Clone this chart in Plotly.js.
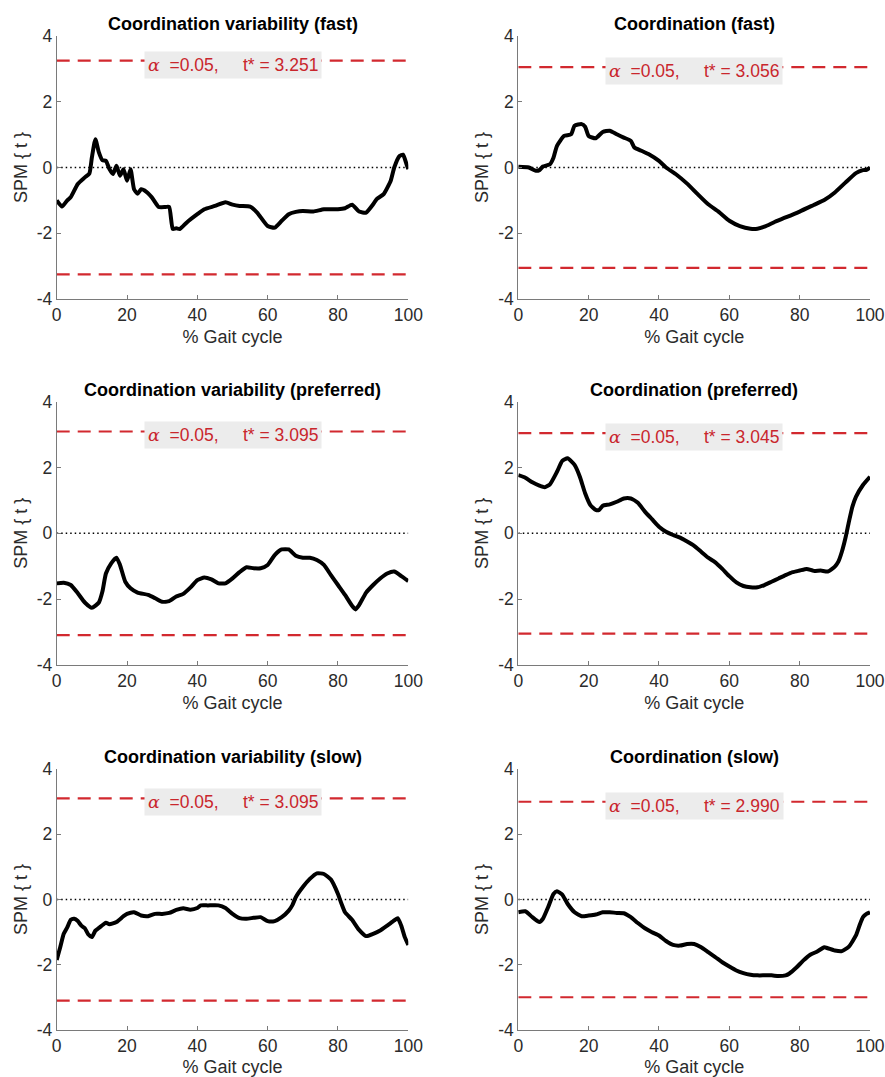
<!DOCTYPE html>
<html>
<head>
<meta charset="utf-8">
<script src="https://cdn.plot.ly/plotly-3.0.1.min.js"></script>
<style>html,body{margin:0;padding:0;background:#fff;} #chart{width:885px;height:1077px;}</style>
</head>
<body>
<div id="chart"></div>
<script>
// ---- Data ----
const panelTitles = [
  "Coordination variability (fast)", "Coordination (fast)",
  "Coordination variability (preferred)", "Coordination (preferred)",
  "Coordination variability (slow)", "Coordination (slow)"
];
const tStar = [3.251, 3.056, 3.095, 3.045, 3.095, 2.990];
const alphaLevel = 0.05;
const xTickVals = [0, 20, 40, 60, 80, 100];
const yTickVals = [-4, -2, 0, 2, 4];
const xLabel = "% Gait cycle";
const yLabel = "SPM { t }";

const cvFastX = [0,1.5,3,4,6,8,9.3,10,11,12,13,14,15,16,17,18,19,20,21,22,23,24,25,27,29,31,32,33,34,35,37,40,42,45,48,50,52,55,57,60,62,64,66,68,70,73,76,80,82,84,86,88,90,91,93,95,96,97.5,98.5,99.5,100];
const cvFastY = [-1.0,-1.19,-1.0,-0.9,-0.5,-0.3,-0.18,0.3,0.86,0.46,0.22,0.2,-0.05,-0.2,0.05,-0.25,-0.05,-0.4,-0.05,-0.66,-0.8,-0.66,-0.7,-0.9,-1.2,-1.2,-1.2,-1.87,-1.85,-1.87,-1.67,-1.42,-1.27,-1.17,-1.06,-1.13,-1.17,-1.19,-1.37,-1.78,-1.83,-1.62,-1.42,-1.35,-1.32,-1.34,-1.27,-1.27,-1.24,-1.13,-1.34,-1.37,-1.12,-0.96,-0.81,-0.4,0.0,0.35,0.39,0.1,-0.05];

const cFastX = [0,3,5,6,7,9,10,11,13,15,16,18,19,20,22,24,26,28,30,32,33,35,37,40,42,45,48,51,54,57,60,63,66,68,70,73,76,80,84,87,90,93,96,98,99,100];
const cFastY = [0.02,0,-0.1,-0.08,0.03,0.1,0.3,0.66,0.96,1.01,1.27,1.32,1.24,0.96,0.89,1.08,1.12,1.01,0.91,0.81,0.61,0.51,0.41,0.2,0,-0.22,-0.49,-0.81,-1.12,-1.35,-1.62,-1.78,-1.86,-1.86,-1.8,-1.65,-1.52,-1.34,-1.14,-0.99,-0.76,-0.46,-0.17,-0.08,-0.07,0];

const cvPrefX = [0,2,4,6,8,10,12,13,14,15.5,17,18,19.5,21,23,26,28,30,32,34,36,38,40,42,44,46,48,50,52,54,56,58,60,62,64,66,68,70,72,74,76,78,80,82,84,85,86,88,90,92,94,96,98,100];
const cvPrefY = [-1.52,-1.5,-1.57,-1.82,-2.1,-2.26,-2.1,-1.77,-1.22,-0.91,-0.74,-0.96,-1.47,-1.67,-1.8,-1.87,-1.97,-2.08,-2.06,-1.92,-1.84,-1.65,-1.42,-1.34,-1.4,-1.52,-1.52,-1.37,-1.18,-1.03,-1.06,-1.06,-0.96,-0.66,-0.49,-0.49,-0.68,-0.74,-0.74,-0.81,-0.96,-1.27,-1.57,-1.87,-2.2,-2.31,-2.18,-1.8,-1.57,-1.37,-1.22,-1.16,-1.3,-1.45];

const cPrefX = [0,2,4,6,7.5,9,11,12.5,14,16,17.5,19,20.5,22,23,24,26,28,30,32,34,36,38,40,42,44,46,48,50,52,54,56,58,60,62,64,66,68,70,72,74,76,78,80,82,84,86,88,90,91,92,93,94,95,96,98,100];
const cPrefY = [1.77,1.69,1.55,1.45,1.4,1.49,1.87,2.2,2.28,2.08,1.72,1.22,0.86,0.71,0.71,0.84,0.88,0.96,1.06,1.06,0.93,0.66,0.43,0.2,0.05,-0.05,-0.13,-0.25,-0.38,-0.56,-0.74,-0.88,-1.08,-1.3,-1.49,-1.6,-1.64,-1.64,-1.57,-1.47,-1.37,-1.27,-1.18,-1.13,-1.08,-1.14,-1.13,-1.16,-1.01,-0.86,-0.56,-0.15,0.35,0.81,1.11,1.47,1.72];

const cvSlowX = [0,1,2,3,4,5,6,7,8,9,10,11,12,14,15,17,19,20,22,24,26,28,30,32,34,36,38,40,41,43,46,48,50,52,54,56,58,60,62,64,66,67,68,70,72,74,76,78,80,81,82,84,86,88,90,92,94,96,97,98,99,100];
const cvSlowY = [-1.85,-1.46,-1.05,-0.85,-0.62,-0.59,-0.66,-0.8,-0.88,-1.07,-1.15,-0.95,-0.87,-0.71,-0.76,-0.69,-0.51,-0.44,-0.39,-0.49,-0.51,-0.44,-0.44,-0.41,-0.32,-0.27,-0.31,-0.26,-0.18,-0.18,-0.18,-0.26,-0.44,-0.57,-0.59,-0.56,-0.54,-0.66,-0.66,-0.54,-0.34,-0.18,0.07,0.38,0.63,0.8,0.78,0.61,0.17,-0.13,-0.39,-0.62,-0.93,-1.12,-1.05,-0.95,-0.8,-0.64,-0.57,-0.8,-1.15,-1.39];

const cSlowX = [0,2,4,6,7,8.5,10,11,12.5,14,16,18,20,22,24,26,28,30,32,34,36,38,40,42,44,46,48,50,52,54,56,58,60,62,64,66,68,70,72,74,76,77,79,81,83,85,87,88,90,92,94,96,97,98,99,100];
const cSlowY = [-0.39,-0.36,-0.54,-0.69,-0.59,-0.23,0.17,0.25,0.15,-0.13,-0.39,-0.51,-0.49,-0.46,-0.39,-0.39,-0.41,-0.42,-0.54,-0.72,-0.88,-1.0,-1.1,-1.27,-1.39,-1.41,-1.36,-1.36,-1.46,-1.61,-1.76,-1.92,-2.05,-2.17,-2.25,-2.3,-2.32,-2.32,-2.32,-2.34,-2.32,-2.27,-2.09,-1.87,-1.69,-1.59,-1.46,-1.49,-1.56,-1.58,-1.44,-1.1,-0.8,-0.54,-0.44,-0.39];

const seriesX = [cvFastX, cFastX, cvPrefX, cPrefX, cvSlowX, cSlowX];
const seriesY = [cvFastY, cFastY, cvPrefY, cPrefY, cvSlowY, cSlowY];

// ---- Layout geometry ----
const W = 885, H = 1077;
const colDom = [[56.7/W, 408.3/W], [518.3/W, 870/W]];
const rowPx = [[36, 299], [401.7, 665], [768.7, 1030.3]];
const rowDom = rowPx.map(r => [1 - r[1]/H, 1 - r[0]/H]);

const FONT = "'Liberation Sans', Arial, Helvetica, sans-serif";
const RED = "#d2292f";
const AXC = "#7a7a7a";
const LBL = "#2b2b2b";

const traces = [];
const layout = {
  width: W, height: H,
  margin: {l: 0, r: 0, t: 0, b: 0},
  paper_bgcolor: "#ffffff", plot_bgcolor: "#ffffff",
  showlegend: false,
  font: {family: FONT, size: 18, color: LBL},
  annotations: []
};

for (let i = 0; i < 6; i++) {
  const n = i + 1;
  const xa = n === 1 ? "x" : "x" + n;
  const ya = n === 1 ? "y" : "y" + n;
  const col = i % 2, row = Math.floor(i / 2);
  const axBase = {
    showgrid: false, zeroline: false, showline: true, linecolor: AXC, linewidth: 1,
    ticks: "inside", ticklen: 4, tickcolor: AXC, tickwidth: 1,
    ticklabeloverflow: "allow",
    tickfont: {family: FONT, size: 17.5, color: LBL}, fixedrange: true
  };
  layout["xaxis" + (n === 1 ? "" : n)] = Object.assign({}, axBase, {
    domain: colDom[col], anchor: ya, range: [0, 100],
    tickvals: xTickVals, ticktext: xTickVals.map(String),
    title: {text: xLabel, font: {family: FONT, size: 18, color: LBL}, standoff: 6}
  });
  layout["yaxis" + (n === 1 ? "" : n)] = Object.assign({}, axBase, {
    domain: rowDom[row], anchor: xa, range: [-4, 4],
    tickvals: yTickVals, ticktext: yTickVals.map(String),
    title: {text: yLabel, font: {family: FONT, size: 18, color: LBL}, standoff: 4}
  });

  // zero reference line (dotted)
  traces.push({x: [0, 100], y: [0, 0], xaxis: xa, yaxis: ya, mode: "lines",
    line: {color: "#000", width: 1.5, dash: "1.5px,3px"}, hoverinfo: "skip"});
  // critical thresholds
  traces.push({x: [0, 100], y: [tStar[i], tStar[i]], xaxis: xa, yaxis: ya, mode: "lines",
    line: {color: RED, width: 2.2, dash: "13px,8px"}, hoverinfo: "skip"});
  traces.push({x: [0, 100], y: [-tStar[i], -tStar[i]], xaxis: xa, yaxis: ya, mode: "lines",
    line: {color: RED, width: 2.2, dash: "13px,8px"}, hoverinfo: "skip"});
  // SPM{t} curve
  traces.push({x: seriesX[i], y: seriesY[i], xaxis: xa, yaxis: ya, mode: "lines",
    line: {color: "#000", width: 4, shape: "spline", smoothing: 0.5}});

  // subplot title
  layout.annotations.push({
    xref: xa + " domain", yref: ya + " domain", x: 0.5, y: 1, xanchor: "center", yanchor: "bottom",
    yshift: 0, showarrow: false, text: "<b>" + panelTitles[i] + "</b>",
    font: {family: FONT, size: 18, color: "#000"}
  });
  // alpha / t* label
  const nb = "\u00A0";
  layout.annotations.push({
    xref: xa, yref: ya, x: 50, y: tStar[i], xanchor: "center", yanchor: "middle", yshift: -4,
    showarrow: false, bgcolor: "#ececec", borderpad: 3,
    text: "<span style=\"font-family:'DejaVu Serif',serif;font-style:italic\">\u03B1</span>" + nb + nb +
          "=" + alphaLevel.toFixed(2) + "," + nb + nb + nb + nb + nb + "t*" + nb + "=" + nb + tStar[i].toFixed(3),
    font: {family: FONT, size: 17.5, color: "#c9262c"}
  });
}

Plotly.newPlot("chart", traces, layout, {staticPlot: true, displayModeBar: false});
</script>
</body>
</html>
